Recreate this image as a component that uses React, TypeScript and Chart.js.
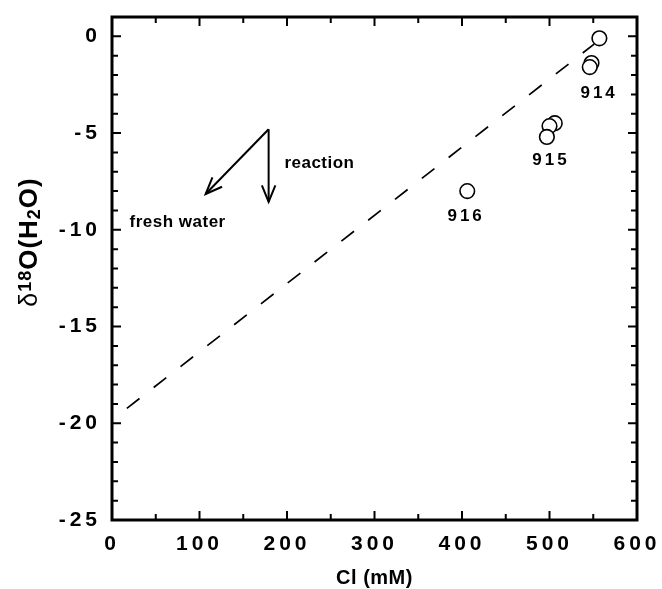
import React, { useEffect, useRef } from 'react';
import { Chart, registerables } from 'chart.js';

Chart.register(...registerables);

// ---- data ----
const clValues = [557, 548, 546, 506, 500, 497, 406];
const d18OValues = [-0.1, -1.38, -1.59, -4.49, -4.64, -5.2, -8.0];
const mixingLineCl = [17, 551];
const mixingLineD18O = [-19.23, -0.4];
const siteLabels = ['914', '915', '916'];
const siteLabelCl = [555, 500, 403];
const siteLabelD18O = [-2.93, -6.39, -9.29];
const xTicks = [0, 100, 200, 300, 400, 500, 600];
const yTicks = [-25, -20, -15, -10, -5, 0];
const xMinorTicks = [50, 150, 250, 350, 450, 550];
const yMinorTicks = [-24, -23, -22, -21, -19, -18, -17, -16, -14, -13, -12, -11, -9, -8, -7, -6, -4, -3, -2, -1, 1];
const arrowOrigin = [179, -4.8];
const arrowFreshEnd = [107, -8.15];
const arrowReactionEnd = [179, -8.56];
const annotationTexts = ['reaction', 'fresh water'];
const annotationCl = [197, 20];
const annotationD18O = [-6.55, -9.6];
const xTitle = 'Cl (mM)';

const FONT = '"Liberation Sans", Arial, sans-serif';
const TICK_SPACING = 4;

const decorPlugin = {
  id: 'decor',
  beforeDraw(chart: any) {
    chart.ctx.letterSpacing = `${TICK_SPACING}px`;
  },
  beforeDatasetsDraw(chart: any) {
    chart.ctx.letterSpacing = '0px';
  },
  afterDraw(chart: any) {
    const ctx = chart.ctx as CanvasRenderingContext2D;
    const xs = chart.scales.x;
    const ys = chart.scales.y;
    const { left, right, top, bottom } = chart.chartArea;
    ctx.save();
    ctx.letterSpacing = '0px';
    ctx.strokeStyle = '#000';
    ctx.fillStyle = '#000';
    ctx.setLineDash([]);

    // frame
    ctx.lineWidth = 3;
    ctx.strokeRect(left, top, right - left, bottom - top);

    // ticks (inward, mirrored)
    const tickX = (v: number, len: number) => {
      const p = xs.getPixelForValue(v);
      ctx.beginPath();
      ctx.moveTo(p, bottom);
      ctx.lineTo(p, bottom - len);
      ctx.moveTo(p, top);
      ctx.lineTo(p, top + len);
      ctx.stroke();
    };
    const tickY = (v: number, len: number) => {
      const p = ys.getPixelForValue(v);
      ctx.beginPath();
      ctx.moveTo(left, p);
      ctx.lineTo(left + len, p);
      ctx.moveTo(right, p);
      ctx.lineTo(right - len, p);
      ctx.stroke();
    };
    ctx.lineWidth = 2;
    xTicks.forEach((v) => tickX(v, 9));
    yTicks.forEach((v) => tickY(v, 9));
    xMinorTicks.forEach((v) => tickX(v, 6));
    yMinorTicks.forEach((v) => tickY(v, 6));

    // arrows
    const drawArrow = (from: number[], to: number[]) => {
      const x1 = xs.getPixelForValue(from[0]);
      const y1 = ys.getPixelForValue(from[1]);
      const x2 = xs.getPixelForValue(to[0]);
      const y2 = ys.getPixelForValue(to[1]);
      ctx.lineWidth = 2;
      ctx.beginPath();
      ctx.moveTo(x1, y1);
      ctx.lineTo(x2, y2);
      ctx.stroke();
      const ang = Math.atan2(y2 - y1, x2 - x1);
      const hl = 18;
      const ha = (22 * Math.PI) / 180;
      ctx.beginPath();
      ctx.moveTo(x2 - hl * Math.cos(ang - ha), y2 - hl * Math.sin(ang - ha));
      ctx.lineTo(x2, y2);
      ctx.lineTo(x2 - hl * Math.cos(ang + ha), y2 - hl * Math.sin(ang + ha));
      ctx.stroke();
    };
    drawArrow(arrowOrigin, arrowFreshEnd);
    drawArrow(arrowOrigin, arrowReactionEnd);

    // annotation texts
    ctx.font = `bold 17px ${FONT}`;
    ctx.textAlign = 'left';
    ctx.textBaseline = 'middle';
    ctx.letterSpacing = '0.5px';
    annotationTexts.forEach((t, i) => {
      ctx.fillText(t, xs.getPixelForValue(annotationCl[i]), ys.getPixelForValue(annotationD18O[i]));
    });

    // site labels
    ctx.font = `bold 17px ${FONT}`;
    ctx.textAlign = 'center';
    ctx.letterSpacing = '3px';
    siteLabels.forEach((t, i) => {
      ctx.fillText(t, xs.getPixelForValue(siteLabelCl[i]) + 1.5, ys.getPixelForValue(siteLabelD18O[i]));
    });

    // x title
    ctx.letterSpacing = '0.5px';
    ctx.font = `bold 20px ${FONT}`;
    ctx.textAlign = 'center';
    ctx.textBaseline = 'middle';
    ctx.fillText(xTitle, (left + right) / 2, 578);

    // y title: δ18O(H2O)
    ctx.letterSpacing = '1px';
    ctx.translate(37, 242);
    ctx.rotate(-Math.PI / 2);
    ctx.textAlign = 'left';
    ctx.textBaseline = 'alphabetic';
    const parts = [
      { t: '\u03b4', f: `25px ${FONT}`, dy: 0 },
      { t: '18', f: `bold 18px ${FONT}`, dy: -6 },
      { t: 'O(H', f: `bold 26px ${FONT}`, dy: 0 },
      { t: '2', f: `bold 18px ${FONT}`, dy: 3 },
      { t: 'O)', f: `bold 26px ${FONT}`, dy: 0 },
    ];
    let total = 0;
    parts.forEach((p) => {
      ctx.font = p.f;
      total += ctx.measureText(p.t).width;
    });
    let cx = -total / 2;
    parts.forEach((p) => {
      ctx.font = p.f;
      ctx.fillText(p.t, cx, p.dy);
      cx += ctx.measureText(p.t).width;
    });
    ctx.restore();
  },
};

export default function App() {
  const ref = useRef<HTMLCanvasElement | null>(null);
  useEffect(() => {
    if (!ref.current) return;
    const chart = new Chart(ref.current, {
      type: 'scatter',
      data: {
        datasets: [
          {
            label: 'samples',
            data: clValues.map((x, i) => ({ x, y: d18OValues[i] })),
            pointStyle: 'circle',
            pointRadius: 7.3,
            pointBorderWidth: 1.6,
            pointBorderColor: '#000',
            pointBackgroundColor: '#fff',
            showLine: false,
          },
          {
            label: 'mixing',
            type: 'line',
            data: mixingLineCl.map((x, i) => ({ x, y: mixingLineD18O[i] })),
            borderColor: '#000',
            borderWidth: 1.7,
            borderDash: [16, 18],
            pointRadius: 0,
            fill: false,
          } as any,
        ],
      },
      options: {
        animation: false,
        responsive: true,
        maintainAspectRatio: false,
        layout: { padding: { left: 0, top: 17, right: 25, bottom: 0 } },
        plugins: {
          legend: { display: false },
          tooltip: { enabled: false },
          title: { display: false },
        },
        scales: {
          x: {
            type: 'linear',
            min: 0,
            max: 600,
            grid: { display: false },
            border: { display: false },
            ticks: {
              color: '#000',
              font: { family: FONT, size: 21, weight: 'bold' },
              padding: 4,
              maxRotation: 0,
            },
            afterBuildTicks: (s: any) => {
              s.ticks = xTicks.map((v) => ({ value: v }));
            },
            afterFit: (s: any) => {
              s.height = 69;
              s.paddingLeft = 0;
              s.paddingRight = 0;
            },
          },
          y: {
            type: 'linear',
            min: -25,
            max: 1,
            grid: { display: false },
            border: { display: false },
            ticks: {
              color: '#000',
              font: { family: FONT, size: 21, weight: 'bold' },
              padding: 3,
            },
            afterBuildTicks: (s: any) => {
              s.ticks = yTicks.map((v) => ({ value: v }));
            },
            afterFit: (s: any) => {
              s.width = 112;
              s.paddingTop = 0;
              s.paddingBottom = 0;
            },
          },
        },
      },
      plugins: [decorPlugin],
    });
    return () => chart.destroy();
  }, []);
  return (
    <div style={{ position: 'fixed', left: 0, top: 0, width: 662, height: 589, background: '#fff' }}>
      <canvas ref={ref} />
    </div>
  );
}
